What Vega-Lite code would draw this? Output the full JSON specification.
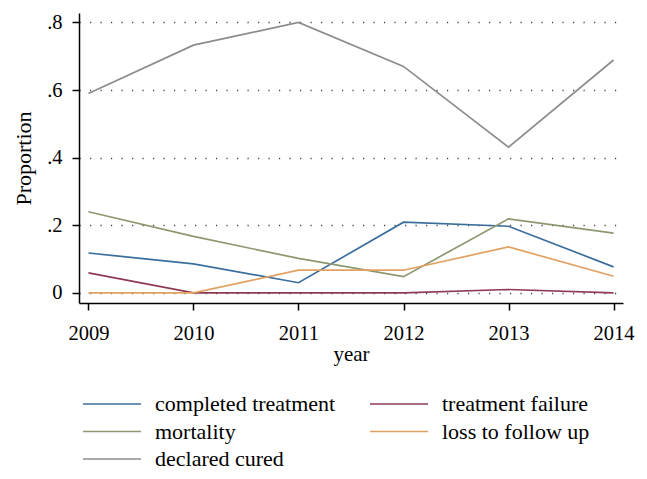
{
  "$schema": "https://vega.github.io/schema/vega-lite/v6.json",
  "width": 544,
  "height": 290,
  "autosize": "none",
  "padding": {"left": 79, "top": 13, "right": 24, "bottom": 176},
  "background": "white",
  "config": {
    "font": "Liberation Serif",
    "view": {"stroke": null}
  },
  "data": {
    "values": [
      {"year": 2009, "outcome": "completed treatment", "p": 0.118},
      {"year": 2010, "outcome": "completed treatment", "p": 0.086},
      {"year": 2011, "outcome": "completed treatment", "p": 0.030},
      {"year": 2012, "outcome": "completed treatment", "p": 0.209},
      {"year": 2013, "outcome": "completed treatment", "p": 0.197},
      {"year": 2014, "outcome": "completed treatment", "p": 0.077},
      {"year": 2009, "outcome": "treatment failure", "p": 0.059},
      {"year": 2010, "outcome": "treatment failure", "p": 0.0},
      {"year": 2011, "outcome": "treatment failure", "p": 0.0},
      {"year": 2012, "outcome": "treatment failure", "p": 0.0},
      {"year": 2013, "outcome": "treatment failure", "p": 0.010},
      {"year": 2014, "outcome": "treatment failure", "p": 0.0},
      {"year": 2009, "outcome": "mortality", "p": 0.240},
      {"year": 2010, "outcome": "mortality", "p": 0.167},
      {"year": 2011, "outcome": "mortality", "p": 0.102},
      {"year": 2012, "outcome": "mortality", "p": 0.048},
      {"year": 2013, "outcome": "mortality", "p": 0.219},
      {"year": 2014, "outcome": "mortality", "p": 0.177},
      {"year": 2009, "outcome": "loss to follow up", "p": 0.0},
      {"year": 2010, "outcome": "loss to follow up", "p": 0.0},
      {"year": 2011, "outcome": "loss to follow up", "p": 0.067},
      {"year": 2012, "outcome": "loss to follow up", "p": 0.067},
      {"year": 2013, "outcome": "loss to follow up", "p": 0.136},
      {"year": 2014, "outcome": "loss to follow up", "p": 0.049},
      {"year": 2009, "outcome": "declared cured", "p": 0.590},
      {"year": 2010, "outcome": "declared cured", "p": 0.733},
      {"year": 2011, "outcome": "declared cured", "p": 0.800},
      {"year": 2012, "outcome": "declared cured", "p": 0.670},
      {"year": 2013, "outcome": "declared cured", "p": 0.431},
      {"year": 2014, "outcome": "declared cured", "p": 0.689}
    ]
  },
  "mark": {"type": "line", "strokeWidth": 1.7},
  "encoding": {
    "x": {
      "field": "year",
      "type": "quantitative",
      "scale": {"domain": [2008.91, 2014.09], "nice": false, "zero": false},
      "axis": {
        "values": [2009, 2010, 2011, 2012, 2013, 2014],
        "format": "d",
        "title": "year",
        "grid": false,
        "domainColor": "#000000",
        "domainWidth": 1.5,
        "tickColor": "#000000",
        "tickWidth": 1.5,
        "tickSize": 7,
        "labelFontSize": 20.5,
        "labelColor": "#000000",
        "labelPadding": 13,
        "titleFontSize": 21,
        "titleFontWeight": "normal",
        "titleColor": "#000000",
        "titlePadding": 0
      }
    },
    "y": {
      "field": "p",
      "type": "quantitative",
      "scale": {"domain": [-0.03, 0.828], "nice": false, "zero": false},
      "axis": {
        "values": [0, 0.2, 0.4, 0.6, 0.8],
        "labelExpr": "datum.value == 0 ? '0' : '.' + format(datum.value * 10, 'd')",
        "title": "Proportion",
        "grid": true,
        "gridColor": "#444444",
        "gridDash": [1.2, 9.3],
        "gridWidth": 1.5,
        "domainColor": "#000000",
        "domainWidth": 1.5,
        "tickColor": "#000000",
        "tickWidth": 1.5,
        "tickSize": 7,
        "labelFontSize": 20.5,
        "labelColor": "#000000",
        "labelPadding": 10,
        "titleFontSize": 22,
        "titleFontWeight": "normal",
        "titleColor": "#000000",
        "titlePadding": 11
      }
    },
    "color": {
      "field": "outcome",
      "type": "nominal",
      "scale": {
        "domain": ["completed treatment", "treatment failure", "mortality", "loss to follow up", "declared cured"],
        "range": ["#3b6e9c", "#8e3a57", "#8c9870", "#e0a162", "#8a8d8d"]
      },
      "legend": {
        "orient": "none",
        "direction": "horizontal",
        "legendX": 3,
        "legendY": 380,
        "columns": 2,
        "title": null,
        "symbolType": "stroke",
        "symbolSize": 3364,
        "symbolStrokeWidth": 1.7,
        "clipHeight": 22,
        "labelFontSize": 22,
        "labelLimit": 400,
        "labelColor": "#000000",
        "labelOffset": 13,
        "columnPadding": 33,
        "rowPadding": 5.5,
        "padding": 0
      }
    }
  }
}
